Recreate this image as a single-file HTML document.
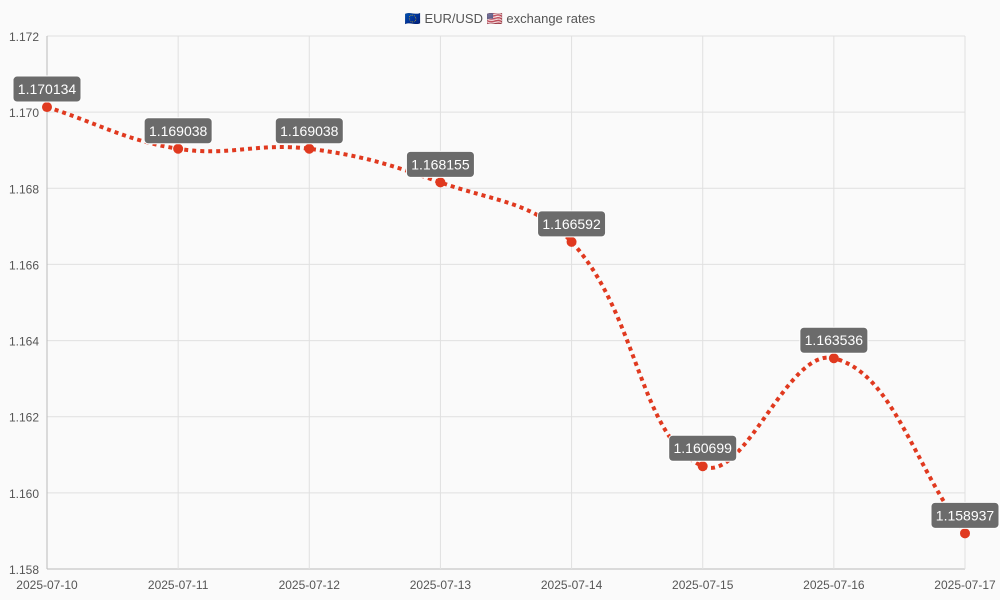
<!DOCTYPE html>
<html><head><meta charset="utf-8"><style>
body{margin:0;background:#fafafa;font-family:"Liberation Sans",sans-serif}
svg{display:block}
</style></head><body>
<svg id="chart" width="1000" height="600">
<rect width="1000" height="600" fill="#fafafa"/>
<text x="500" y="23" text-anchor="middle" font-size="13" fill="#555">🇪🇺 EUR/USD 🇺🇸 exchange rates</text>
<g id="grid"></g><g id="axes"></g><g id="series"></g><g id="labels"></g>
</svg>
<script>
const categories=["2025-07-10","2025-07-11","2025-07-12","2025-07-13","2025-07-14","2025-07-15","2025-07-16","2025-07-17"];
const rates=[1.170134,1.169038,1.169038,1.168155,1.166592,1.160699,1.163536,1.158937];
const yTicks=[1.158,1.160,1.162,1.164,1.166,1.168,1.170,1.172];
const NS="http://www.w3.org/2000/svg";
const X0=47,X1=965,Y0=569,Y1=36,YMIN=1.158,YMAX=1.172;
const xs=i=>X0+(X1-X0)*i/(categories.length-1);
const ys=v=>Y0-(v-YMIN)/(YMAX-YMIN)*(Y0-Y1);
function mk(tag,attrs,parent){const e=document.createElementNS(NS,tag);for(const k in attrs)e.setAttribute(k,attrs[k]);parent.appendChild(e);return e;}
const grid=document.getElementById('grid'),axes=document.getElementById('axes'),series=document.getElementById('series'),labels=document.getElementById('labels');
yTicks.forEach(t=>{
 const l=mk('line',{x1:X0,x2:X1,y1:ys(t),y2:ys(t),stroke:t===YMIN?'#bbb':'#e0e0e0','stroke-width':1},grid);
 
 
 const tx=mk('text',{x:X0-8,y:ys(t)+5,'text-anchor':'end','font-size':12,fill:'#555'},axes);
 tx.textContent=t.toFixed(3);
 
 
});
categories.forEach((c,i)=>{
 const l=mk('line',{x1:xs(i),x2:xs(i),y1:Y1,y2:Y0,stroke:i===0?'#bbb':'#e0e0e0','stroke-width':1},grid);
 
 
 const tx=mk('text',{x:xs(i),y:589,'text-anchor':'middle','font-size':12,fill:'#555'},axes);
 tx.textContent=c;
 
 
});
const pts=rates.map((v,i)=>[xs(i),ys(v)]);
const T=0.4;let d=`M${pts[0][0]},${pts[0][1]}`;
const cps=pts.map((p,i)=>{
 const prev=pts[i-1]||p,next=pts[i+1]||p;
 const d01=Math.hypot(p[0]-prev[0],p[1]-prev[1]),d12=Math.hypot(next[0]-p[0],next[1]-p[1]);
 let s01=d01/(d01+d12)||0,s12=d12/(d01+d12)||0;
 const fa=T*s01,fb=T*s12;
 return {pr:[p[0]-fa*(next[0]-prev[0]),p[1]-fa*(next[1]-prev[1])],nx:[p[0]+fb*(next[0]-prev[0]),p[1]+fb*(next[1]-prev[1])]};
});
for(let i=1;i<pts.length;i++){d+=` C${cps[i-1].nx[0]},${cps[i-1].nx[1]} ${cps[i].pr[0]},${cps[i].pr[1]} ${pts[i][0]},${pts[i][1]}`;}
const path=mk('path',{d:d,fill:'none',stroke:'#e0391f','stroke-width':4,'stroke-dasharray':'4 4'},series);


rates.forEach((v,i)=>{
 const c=mk('circle',{cx:xs(i),cy:ys(v),r:5,fill:'#e0391f'},series);
 
 
 const g=mk('g',{},labels);
 
 
 const bx=xs(i),by=ys(v)-18;
 mk('rect',{x:bx-34,y:by-13,width:68,height:26,rx:4,fill:'#6b6b6b',stroke:'#fff','stroke-width':1},g);
 const t=mk('text',{x:bx,y:by+5,'text-anchor':'middle','font-size':14,fill:'#fff'},g);
 t.textContent=v.toFixed(6);
});
</script>
</body></html>
